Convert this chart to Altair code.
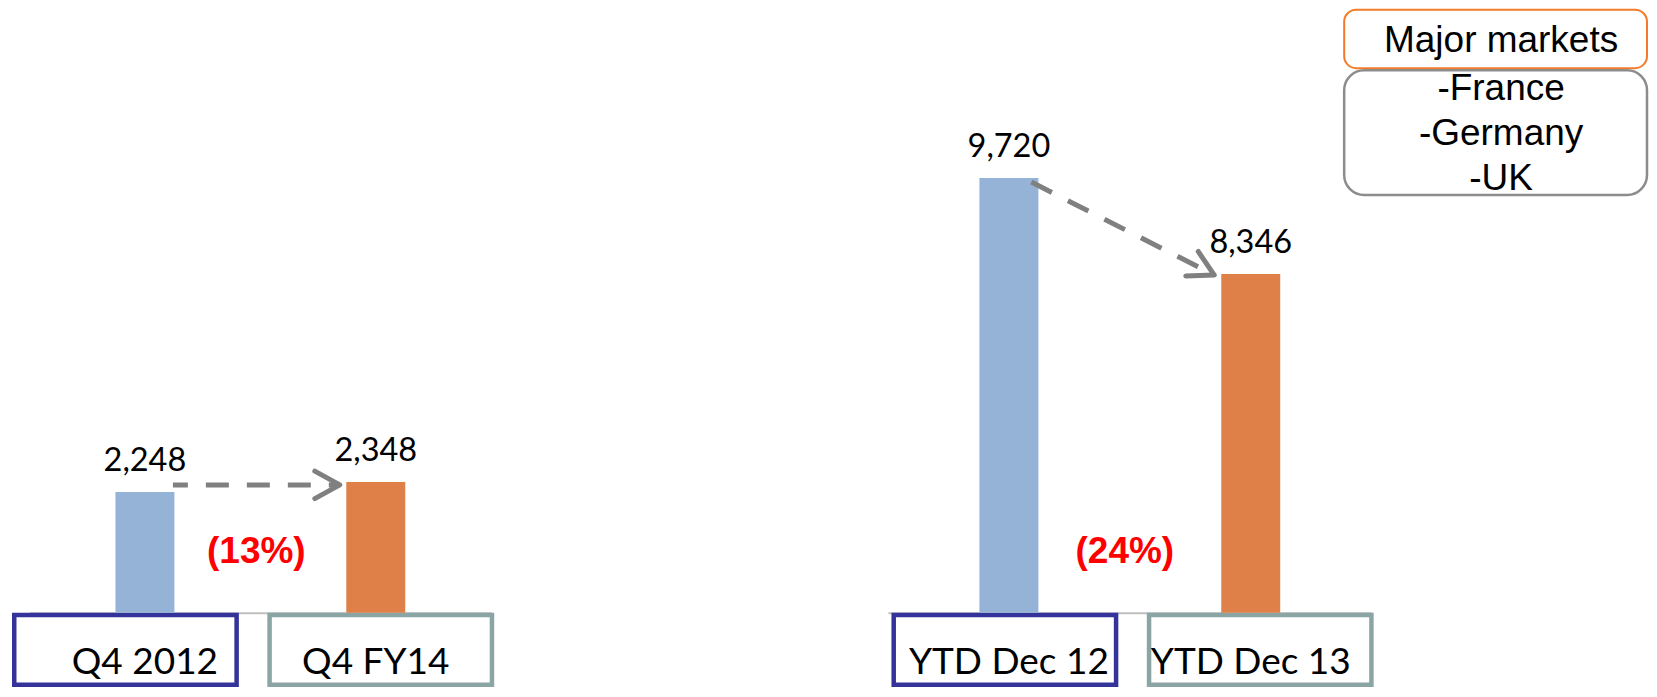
import math
import altair as alt
import pandas as pd

# ---------------- data ----------------
left_cats = ["Q4 2012", "Q4 FY14"]
left_vals = [2248, 2348]
left_change = "(13%)"

right_cats = ["YTD Dec 12", "YTD Dec 13"]
right_vals = [9720, 8346]
right_change = "(24%)"

legend_title = "Major markets"
legend_items = ["-France", "-Germany", "-UK"]

# ---------------- styles ----------------
BLUE = "#95B3D7"
ORANGE = "#DE8047"
BOX_COLORS = ["#333399", "#8BA5A5"]
ARROW = "#808080"
NUM_FONT = "Lato"
SANS = "Liberation Sans"
PANEL_H = 605
CHEVRON = "M -1 -0.55 L 0 0 L -1 0.55"


def panel(cats, vals, change, ydom, xrange, width, box_offsets,
          arrow_off, arrow_angle, dash_offset, pct_dx, extra=None):
    df = pd.DataFrame({"cat": cats, "value": vals})
    arr = pd.DataFrame({"c1": [cats[0]], "c2": [cats[1]],
                        "v1": [vals[0]], "v2": [vals[1]], "change": [change]})

    xscale = alt.Scale(domain=cats, range=xrange, paddingInner=0, paddingOuter=0)
    xaxis = alt.Axis(title=None, labels=False, ticks=False, grid=False,
                     domainColor="#BFBFBF", domainWidth=2)
    yscale = alt.Scale(domain=ydom, zero=False, nice=False)

    def X(f):
        return alt.X(f, type="nominal", scale=xscale, axis=xaxis)

    def Y(f):
        return alt.Y(f, type="quantitative", scale=yscale, axis=None)

    base = alt.Chart(df)
    layers = []

    # label boxes
    for cat, off, col in zip(cats, box_offsets, BOX_COLORS):
        layers.append(
            base.transform_filter(alt.datum.cat == cat)
            .mark_bar(size=222.5, xOffset=off, fill="white", stroke=col,
                      strokeWidth=4.5)
            .encode(x=X("cat"), y=alt.value(607.25), y2=alt.value(677))
        )

    bars = base.mark_bar(size=59).encode(
        x=X("cat"), y=Y("value"), y2=alt.datum(ydom[0]),
        color=alt.Color("cat:N", scale=alt.Scale(domain=cats, range=[BLUE, ORANGE]),
                        legend=None),
    )
    vlabels = base.mark_text(dy=-21, baseline="alphabetic", font=NUM_FONT,
                             fontSize=32.5, color="black").encode(
        x=X("cat"), y=Y("value"), text=alt.Text("value:Q", format=",")
    )
    clabels = base.mark_text(baseline="alphabetic", font=NUM_FONT, fontSize=37,
                             color="black").encode(
        x=X("cat"), y=alt.value(666), text="cat:N"
    )

    a = alt.Chart(arr)
    xo, yo, x2o, y2o = arrow_off
    rule = a.mark_rule(color=ARROW, strokeWidth=5, strokeDash=[23, 18],
                       strokeDashOffset=dash_offset,
                       xOffset=xo, yOffset=yo, x2Offset=x2o, y2Offset=y2o).encode(
        x=X("c1"), y=Y("v1"), x2="c2:N", y2="v2:Q"
    )
    head = a.mark_point(shape=CHEVRON, size=2500, filled=False, stroke=ARROW,
                        strokeWidth=5, strokeCap="round", strokeJoin="round",
                        opacity=1, angle=arrow_angle, xOffset=x2o, yOffset=y2o).encode(
        x=X("c2"), y=Y("v2")
    )
    pct = a.mark_text(dx=pct_dx, baseline="alphabetic", font=SANS, fontSize=37,
                      fontWeight="bold", color="#FF0000").encode(
        x=X("c1"), y=alt.value(555), text="change:N"
    )

    layers += [bars, vlabels, clabels, rule, head, pct]
    if extra:
        layers += extra
    return alt.layer(*layers).properties(width=width, height=PANEL_H)


# legend (decorative text boxes, top right)
leg_df = pd.DataFrame({"title": [legend_title]})
leg = alt.Chart(leg_df)
legend_layers = [
    leg.mark_rect(cornerRadius=12, fill="white", stroke="#F47B2A", strokeWidth=2).encode(
        x=alt.value(465), x2=alt.value(768), y=alt.value(1.5), y2=alt.value(60)),
    leg.mark_rect(cornerRadius=20, fill="white", stroke="#8C8C8C", strokeWidth=2.5).encode(
        x=alt.value(465), x2=alt.value(768), y=alt.value(62), y2=alt.value(187)),
    leg.mark_text(font=SANS, fontSize=37, baseline="alphabetic", color="black").encode(
        x=alt.value(622), y=alt.value(44), text="title:N"),
    leg.mark_text(font=SANS, fontSize=37, baseline="alphabetic", lineHeight=45,
                  color="black").encode(
        x=alt.value(622), y=alt.value(92), text=alt.value(legend_items)),
]

left = panel(left_cats, left_vals, left_change,
             ydom=[1038, 7088], xrange=[21.5, 483.5], width=490,
             box_offsets=[-19.5, 5], arrow_off=(28, -7, -36, 3),
             arrow_angle=0, dash_offset=8, pct_dx=111.5)

ang = math.degrees(math.atan2(93, 183))
right = panel(right_cats, right_vals, right_change,
              ydom=[3494, 12153], xrange=[8.5, 492.5], width=770,
              box_offsets=[-4, 9.5], arrow_off=(22.5, 4, -36.5, 1),
              arrow_angle=ang, dash_offset=0, pct_dx=116,
              extra=legend_layers)

chart = alt.hconcat(left, right, spacing=382).properties(
    padding=0, background="white"
).configure_view(stroke=None)

chart.save("out.html", embed_options={"renderer": "svg", "actions": False})
